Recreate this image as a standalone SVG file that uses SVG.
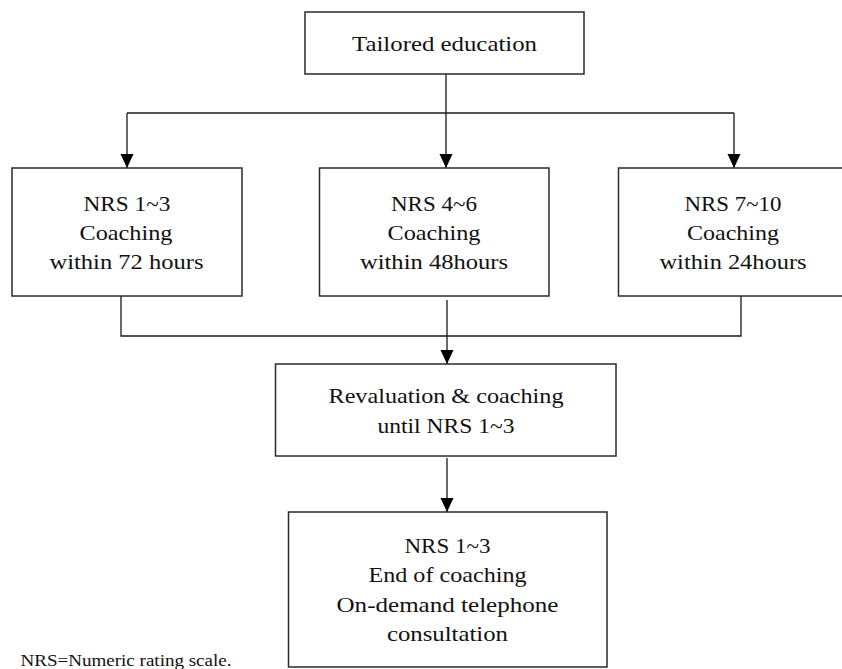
<svg xmlns="http://www.w3.org/2000/svg" width="842" height="669" viewBox="0 0 842 669">
<defs>
<style>
.box{fill:#fff;stroke:#2a2a2a;stroke-width:1.5}
.ln{fill:none;stroke:#1a1a1a;stroke-width:1.3}
text{font-family:'Liberation Serif','DejaVu Serif',serif;fill:#111}
.t{font-size:21px;text-anchor:middle}
.fn{font-size:16px}
</style>
<marker id="ah" markerUnits="userSpaceOnUse" markerWidth="14" markerHeight="14" refX="14" refY="6.5" orient="auto" viewBox="0 0 14 13">
<path d="M0,0 L14,6.5 L0,13 Z" fill="#000"/>
</marker>
</defs>
<rect width="842" height="669" fill="#fff"/>
<g id="connectors">
<path class="ln" d="M446,74 V113"/>
<path class="ln" d="M127,113 H734"/>
<path class="ln" d="M127,113 V168" marker-end="url(#ah)"/>
<path class="ln" d="M446,113 V168" marker-end="url(#ah)"/>
<path class="ln" d="M734,113 V168" marker-end="url(#ah)"/>
<path class="ln" d="M121,296 V336 H741 V296"/>
<path class="ln" d="M447,300 V364" marker-end="url(#ah)"/>
<path class="ln" d="M447,458 V512" marker-end="url(#ah)"/>
</g>
<g id="tailored">
<rect class="box" x="305" y="12" width="279" height="62"/>
<text class="t" x="444.5" y="51" textLength="185" lengthAdjust="spacingAndGlyphs">Tailored education</text>
</g>
<g id="nrs13">
<rect class="box" x="12" y="168" width="230" height="128"/>
<text class="t" x="127" y="211" textLength="87" lengthAdjust="spacingAndGlyphs">NRS 1~3</text>
<text class="t" x="126" y="240" textLength="93" lengthAdjust="spacingAndGlyphs">Coaching</text>
<text class="t" x="126.5" y="269" textLength="154" lengthAdjust="spacingAndGlyphs">within 72 hours</text>
</g>
<g id="nrs46">
<rect class="box" x="319.5" y="168" width="229.5" height="128"/>
<text class="t" x="434" y="211" textLength="86" lengthAdjust="spacingAndGlyphs">NRS 4~6</text>
<text class="t" x="434" y="240" textLength="93" lengthAdjust="spacingAndGlyphs">Coaching</text>
<text class="t" x="434" y="269" textLength="148" lengthAdjust="spacingAndGlyphs">within 48hours</text>
</g>
<g id="nrs710">
<rect class="box" x="618.5" y="168" width="230" height="128"/>
<text class="t" x="733" y="211" textLength="97" lengthAdjust="spacingAndGlyphs">NRS 7~10</text>
<text class="t" x="733" y="240" textLength="92" lengthAdjust="spacingAndGlyphs">Coaching</text>
<text class="t" x="733" y="269" textLength="147" lengthAdjust="spacingAndGlyphs">within 24hours</text>
</g>
<g id="revaluation">
<rect class="box" x="275.5" y="364" width="340.5" height="92"/>
<text class="t" x="446" y="403" textLength="235" lengthAdjust="spacingAndGlyphs">Revaluation &amp; coaching</text>
<text class="t" x="446" y="433" textLength="137" lengthAdjust="spacingAndGlyphs">until NRS 1~3</text>
</g>
<g id="end">
<rect class="box" x="288.5" y="512" width="318.5" height="155"/>
<text class="t" x="447.5" y="553" textLength="86" lengthAdjust="spacingAndGlyphs">NRS 1~3</text>
<text class="t" x="447.5" y="582" textLength="158" lengthAdjust="spacingAndGlyphs">End of coaching</text>
<text class="t" x="447.5" y="612" textLength="222" lengthAdjust="spacingAndGlyphs">On-demand telephone</text>
<text class="t" x="447.5" y="641" textLength="121" lengthAdjust="spacingAndGlyphs">consultation</text>
</g>
<g id="footnote">
<text class="fn" x="20.5" y="666" textLength="211" lengthAdjust="spacingAndGlyphs">NRS=Numeric rating scale.</text>
</g>
</svg>
